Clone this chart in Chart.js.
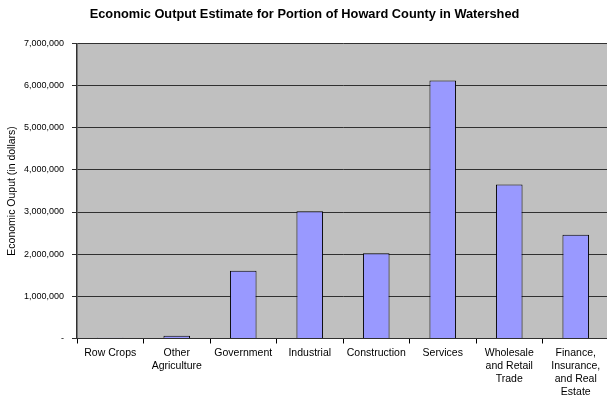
<!DOCTYPE html>
<html>
<head>
<meta charset="utf-8">
<script src="https://cdn.jsdelivr.net/npm/chart.js@4/dist/chart.umd.min.js"></script>
<style>
  html, body { margin: 0; padding: 0; background: #ffffff; }
  #wrap { width: 607px; height: 402px; overflow: hidden; position: relative; }
  #box { width: 612px; height: 402px; position: absolute; left: 0; top: 0; }
</style>
</head>
<body>
<div id="wrap"><div id="box"><canvas id="chart"></canvas></div></div>
<script>
// Economic output by sector (dollars)
const categories = [
  'Row Crops',
  ['Other', 'Agriculture'],
  'Government',
  'Industrial',
  'Construction',
  'Services',
  ['Wholesale', 'and Retail', 'Trade'],
  ['Finance,', 'Insurance,', 'and Real', 'Estate']
];
const outputValues = [20000, 65000, 1605000, 3020000, 2020000, 6120000, 3650000, 2460000];
const yTickValues = [0, 1000000, 2000000, 3000000, 4000000, 5000000, 6000000, 7000000];

const chartTitle = 'Economic Output Estimate for Portion of Howard County in Watershed';
const yAxisTitle = 'Economic Ouput (in dollars)';

const FONT = "'Liberation Sans', Arial, Helvetica, sans-serif";

// grey plot background
const plotBackground = {
  id: 'plotBackground',
  beforeDraw(chart) {
    const { ctx, chartArea: a } = chart;
    ctx.save();
    ctx.fillStyle = '#C0C0C0';
    ctx.fillRect(a.left, a.top, a.right - a.left, a.bottom - a.top);
    ctx.restore();
  }
};

new Chart(document.getElementById('chart'), {
  type: 'bar',
  data: {
    labels: categories,
    datasets: [{
      data: outputValues,
      backgroundColor: '#9999FF',
      borderColor: '#000000',
      borderWidth: 1,
      categoryPercentage: 1.0,
      barPercentage: 0.4
    }]
  },
  options: {
    responsive: true,
    maintainAspectRatio: false,
    animation: false,
    layout: { padding: { top: 0, right: 3, bottom: 0, left: 0 } },
    plugins: {
      legend: { display: false },
      tooltip: { enabled: false },
      title: {
        display: true,
        text: chartTitle,
        color: '#000000',
        font: { family: FONT, size: 12.8, weight: 'bold' },
        padding: { top: 7, bottom: 21 }
      }
    },
    scales: {
      x: {
        offset: true,
        grid: {
          offset: true,
          drawOnChartArea: false,
          drawTicks: true,
          tickLength: 5,
          color: '#000000'
        },
        border: { display: true, color: '#303030', width: 1 },
        ticks: {
          color: '#000000',
          font: { family: FONT, size: 10.5, lineHeight: 1.25 },
          padding: 3,
          maxRotation: 0,
          autoSkip: false
        }
      },
      y: {
        min: 0,
        max: 7000000,
        afterFit(scale) { scale.width = 77; },
        afterBuildTicks(scale) { scale.ticks = yTickValues.map(v => ({ value: v })); },
        grid: {
          color: '#303030',
          lineWidth: 1,
          drawTicks: true,
          tickLength: 5
        },
        border: { display: true, color: '#303030', width: 1.5 },
        ticks: {
          color: '#000000',
          font: { family: FONT, size: 9 },
          padding: 8,
          callback: v => v === 0 ? '-' : Number(v).toLocaleString('en-US')
        },
        title: {
          display: true,
          text: yAxisTitle,
          color: '#000000',
          font: { family: FONT, size: 10.5 },
          padding: { top: 6, bottom: 0 }
        }
      }
    }
  },
  plugins: [plotBackground]
});
</script>
</body>
</html>
